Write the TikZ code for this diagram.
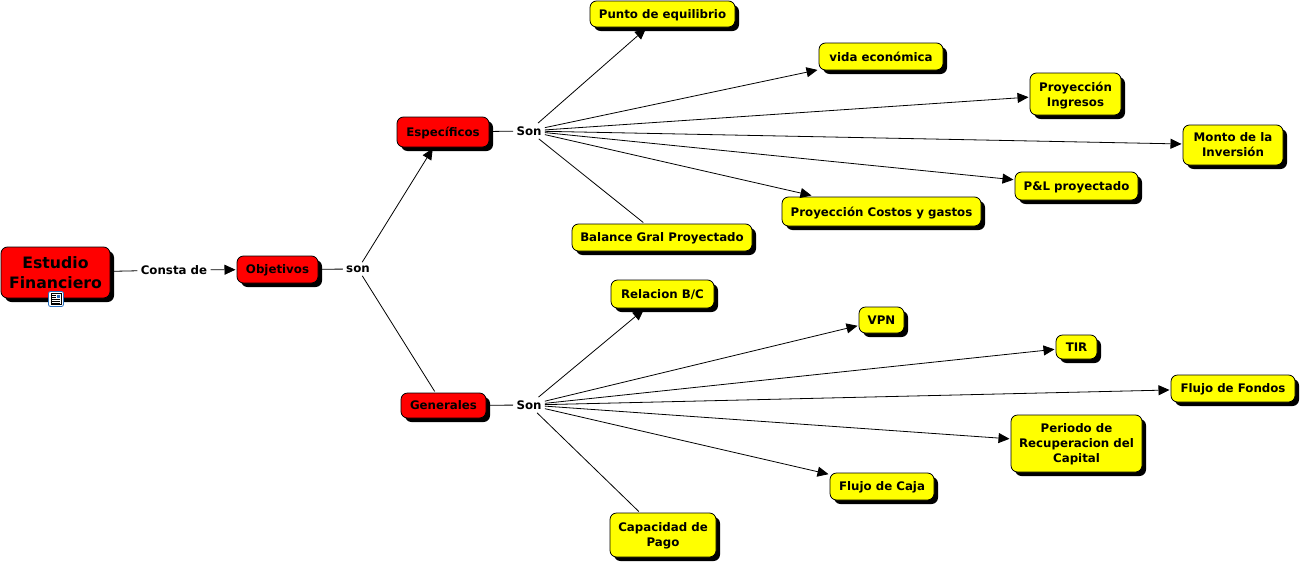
\documentclass[tikz,border=0pt]{standalone}
\usepackage{fontspec}
\setmainfont{DejaVu Sans}
\usepackage{xcolor}
\usetikzlibrary{arrows.meta,shadows}
\definecolor{conceptred}{RGB}{255,0,0}
\definecolor{conceptyellow}{RGB}{255,255,0}
\definecolor{iconblue}{RGB}{40,110,190}
\begin{document}
\begin{tikzpicture}[x=1pt, y=-1pt, >={Triangle[length=11pt,width=10pt]}, line width=0.8pt, every node/.style={font=\fontsize{11.8}{15}\selectfont\bfseries, align=center}]
\tikzstyle{box}=[rectangle, draw=black, rounded corners=6.5pt, inner sep=0pt, outer sep=1.5pt, text depth=0pt, general shadow={fill=black, shadow xshift=4pt, shadow yshift=-4pt}]
\tikzstyle{redbox}=[box, fill=conceptred]
\tikzstyle{yellowbox}=[box, fill=conceptyellow]
\tikzstyle{link}=[inner sep=3pt]
\useasboundingbox (0,0) rectangle (1300,562);
% main concepts
\node[redbox, minimum width=109pt, minimum height=51pt, font=\fontsize{15.7}{20}\selectfont\bfseries] (estudio) at (55.5,272.5) {Estudio\\Financiero};
\node[redbox, minimum width=81pt, minimum height=27pt] (objetivos) at (277.5,269.5) {Objetivos};
\node[redbox, minimum width=92pt, minimum height=30pt] (especificos) at (443,132) {Específicos};
\node[redbox, minimum width=85pt, minimum height=25pt] (generales) at (443.5,405.5) {Generales};
% linking words
\node[link] (consta) at (174,270) {Consta de};
\node[link] (son) at (358,269) {son};
\node[link] (sonA) at (529,131) {Son};
\node[link] (sonB) at (529,405) {Son};
% upper branch
\node[yellowbox, minimum width=145pt, minimum height=26pt] (punto) at (662.5,14) {Punto de equilibrio};
\node[yellowbox, minimum width=124pt, minimum height=27pt] (vida) at (881,56.5) {vida económica};
\node[yellowbox, minimum width=91pt, minimum height=42pt] (ingresos) at (1075.5,94) {Proyección\\Ingresos};
\node[yellowbox, minimum width=100pt, minimum height=40pt] (monto) at (1233,145) {Monto de la\\Inversión};
\node[yellowbox, minimum width=123pt, minimum height=28pt] (pyl) at (1076.5,186) {P\&L proyectado};
\node[yellowbox, minimum width=199pt, minimum height=29pt] (costos) at (881.5,211.5) {Proyección Costos y gastos};
\node[yellowbox, minimum width=180pt, minimum height=27pt] (balance) at (662,237.5) {Balance Gral Proyectado};
% lower branch
\node[yellowbox, minimum width=103pt, minimum height=28pt] (relacion) at (662.5,294) {Relacion B/C};
\node[yellowbox, minimum width=45pt, minimum height=26pt] (vpn) at (881.5,320) {VPN};
\node[yellowbox, minimum width=41pt, minimum height=24pt] (tir) at (1076.5,347) {TIR};
\node[yellowbox, minimum width=124pt, minimum height=27pt] (fondos) at (1233,388.5) {Flujo de Fondos};
\node[yellowbox, minimum width=131pt, minimum height=57pt] (periodo) at (1076.5,443.5) {Periodo de\\Recuperacion del\\Capital};
\node[yellowbox, minimum width=104pt, minimum height=27pt] (caja) at (882,486.5) {Flujo de Caja};
\node[yellowbox, minimum width=106pt, minimum height=44pt] (capacidad) at (663,535) {Capacidad de\\Pago};
% connectors
\draw (estudio) -- (consta);
\draw[->] (consta) -- (objetivos);
\draw (objetivos) -- (son);
\draw[->] (son) -- (especificos);
\draw (son) -- (generales);
\draw (especificos) -- (sonA);
\draw (generales) -- (sonB);
\draw[->] (sonA) -- (punto);
\draw[->] (sonA) -- (vida);
\draw[->] (sonA) -- (ingresos);
\draw[->] (sonA) -- (monto);
\draw[->] (sonA) -- (pyl);
\draw[->] (sonA) -- (costos);
\draw (sonA) -- (balance);
\draw[->] (sonB) -- (relacion);
\draw[->] (sonB) -- (vpn);
\draw[->] (sonB) -- (tir);
\draw[->] (sonB) -- (fondos);
\draw[->] (sonB) -- (periodo);
\draw[->] (sonB) -- (caja);
\draw (sonB) -- (capacidad);
% resource icon
\filldraw[draw=iconblue, fill=white, rounded corners=2pt] (48.5,291.5) rectangle (63.5,306.5);
\draw[line width=0.6pt, fill=white] (51,293.5) rectangle (61,304.5);
\fill[iconblue] (56.5,294.5) rectangle (60,298);
\foreach \y in {295,297,299,301,303}
  \draw[line width=0.5pt] (52,\y) -- (\ifnum\y<299 55.5\else 60\fi,\y);
\end{tikzpicture}
\end{document}
